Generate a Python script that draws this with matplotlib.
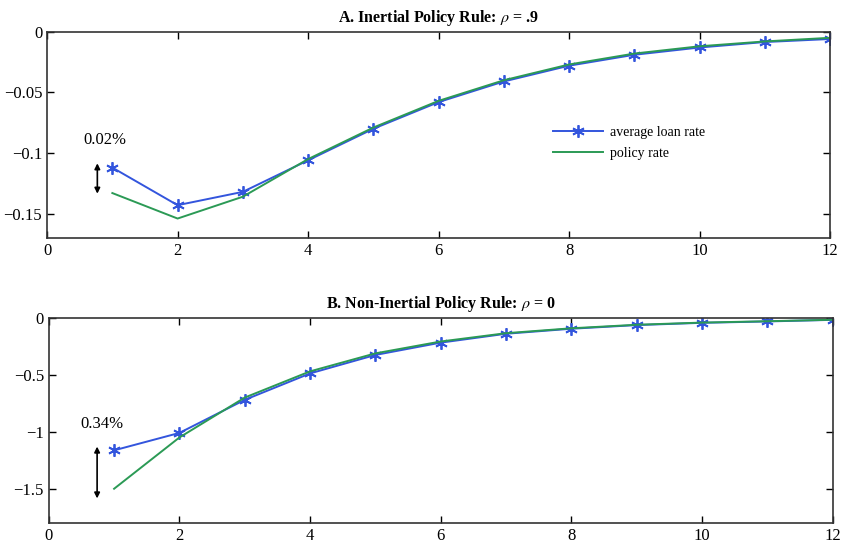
import matplotlib.pyplot as plt

plt.rcParams['font.family'] = ['Liberation Serif', 'DejaVu Serif']
plt.rcParams['mathtext.fontset'] = 'stix'

quarters = [1, 2, 3, 4, 5, 6, 7, 8, 9, 10, 11, 12]

# Panel A: inertial rule, rho = .9
loan_a = [-0.112, -0.143, -0.132, -0.106, -0.080, -0.058, -0.041, -0.028,
          -0.019, -0.013, -0.0085, -0.006]
policy_a = [-0.133, -0.154, -0.136, -0.105, -0.079, -0.057, -0.040, -0.027,
            -0.018, -0.012, -0.008, -0.005]

# Panel B: non-inertial rule, rho = 0
loan_b = [-1.163, -1.01, -0.72, -0.488, -0.326, -0.218, -0.14, -0.096,
          -0.064, -0.044, -0.032, -0.018]
policy_b = [-1.50, -1.05, -0.70, -0.470, -0.312, -0.208, -0.135, -0.092,
            -0.061, -0.042, -0.030, -0.017]

blue = '#3355dd'
green = '#2b9a55'

fig = plt.figure(figsize=(8.41, 5.47), dpi=100)
ax1 = fig.add_axes([0.056, 0.565, 0.931, 0.377])
ax2 = fig.add_axes([0.058, 0.044, 0.932, 0.375])

panels = [
    (ax1, loan_a, policy_a, r'A. Inertial Policy Rule: $\rho$ = .9',
     (-0.17, 0), [-0.15, -0.1, -0.05, 0], ['\u22120.15', '\u22120.1', '\u22120.05', '0']),
    (ax2, loan_b, policy_b, r'B. Non-Inertial Policy Rule: $\rho$ = 0',
     (-1.8, 0), [-1.5, -1, -0.5, 0], ['\u22121.5', '\u22121', '\u22120.5', '0']),
]

for ax, loan, policy, title, ylim, yt, ytl in panels:
    ax.plot(quarters, loan, color=blue, lw=1.4, marker=(6, 2, 0), ms=9,
            mew=1.3, label='average loan rate')
    ax.plot(quarters, policy, color=green, lw=1.4, label='policy rate')
    ax.set_xlim(0, 12)
    ax.set_ylim(*ylim)
    ax.set_xticks(range(0, 13, 2))
    ax.set_yticks(yt)
    ax.set_yticklabels(ytl)
    ax.tick_params(direction='in', top=True, right=True, labelsize=12,
                   length=5, width=1)
    for s in ax.spines.values():
        s.set_linewidth(1.2)
        s.set_color('#333333')
    ax.set_title(title, fontsize=11.5, fontweight='bold', pad=7)

ax1.legend(loc='center left', bbox_to_anchor=(0.63, 0.46), frameon=False,
           fontsize=10, handlelength=3.6, handletextpad=0.5, labelspacing=0.6)

# Gap markers at quarter 1
ax1.annotate('', xy=(0.77, -0.1085), xytext=(0.77, -0.1335),
             arrowprops=dict(arrowstyle='<|-|>', color='black', lw=1.2,
                             mutation_scale=8, shrinkA=0, shrinkB=0))
ax1.text(0.89, -0.0895, '0.02%', ha='center', va='center', fontsize=12)

ax2.annotate('', xy=(0.74, -1.13), xytext=(0.74, -1.585),
             arrowprops=dict(arrowstyle='<|-|>', color='black', lw=1.2,
                             mutation_scale=8, shrinkA=0, shrinkB=0))
ax2.text(0.81, -0.93, '0.34%', ha='center', va='center', fontsize=12)

fig.savefig('out.png', dpi=100)
